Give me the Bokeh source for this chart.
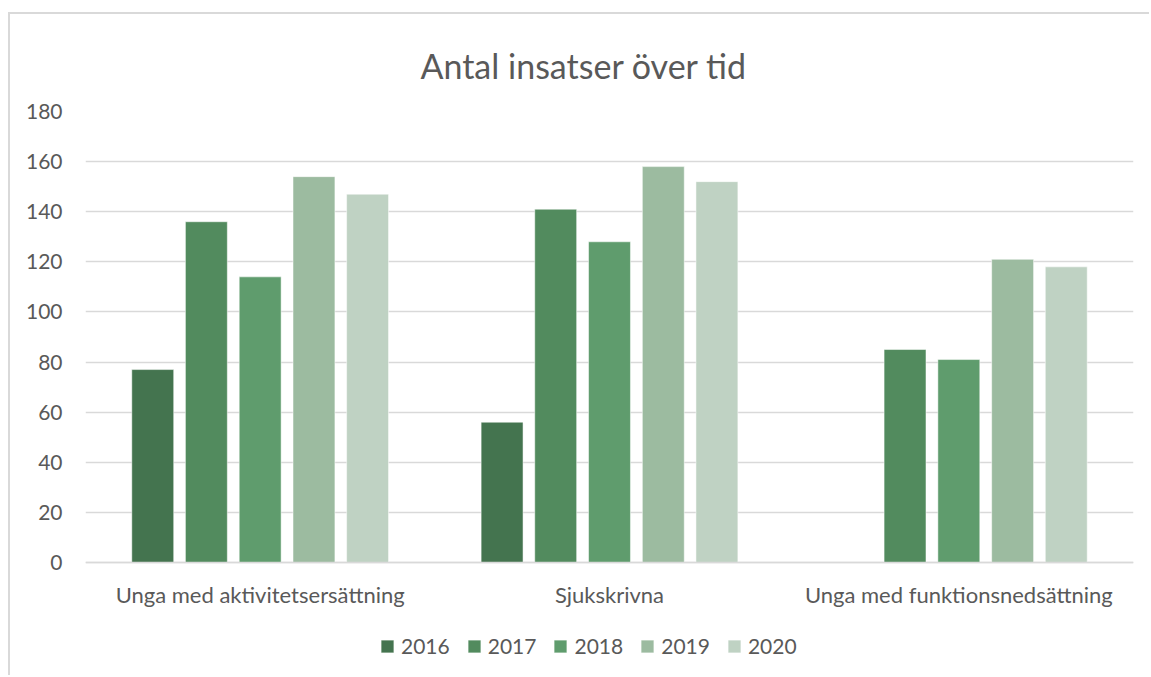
from bokeh.plotting import figure
from bokeh.models import ColumnDataSource, Legend, LegendItem, Title
from bokeh.transform import dodge
from bokeh.embed import file_html
from bokeh.resources import INLINE

categories = ["Unga med aktivitetsersättning", "Sjukskrivna", "Unga med funktionsnedsättning"]
years = ["2016", "2017", "2018", "2019", "2020"]
v2016 = [77, 56, float("nan")]
v2017 = [136, 141, 85]
v2018 = [114, 128, 81]
v2019 = [154, 158, 121]
v2020 = [147, 152, 118]
colors = ["#44744F", "#528B5E", "#5F9C6D", "#9CBBA0", "#BFD2C3"]

FONT = "Lato"
TXT = "#595959"

source = ColumnDataSource(dict(cat=categories, y2016=v2016, y2017=v2017, y2018=v2018,
                               y2019=v2019, y2020=v2020))

# frame runs below zero so that the legend can sit inside it
y_low = -180 * 115 / 451
p = figure(x_range=categories, y_range=(y_low, 180), width=1141, height=663,
           output_backend="svg", toolbar_location=None,
           min_border_left=75, min_border_right=18, min_border_bottom=0,
           min_border_top=97)
p.title = Title(text="Antal insatser över tid", align="left", text_font=FONT,
                text_font_size="34px", text_color=TXT, text_font_style="normal",
                standoff=52, offset=335)

offsets = [-0.3075, -0.154, 0.0, 0.154, 0.3075]
items = []
for yr, col, off in zip(years, colors, offsets):
    r = p.vbar(x=dodge("cat", off, range=p.x_range), top="y" + yr, width=0.12,
               source=source, fill_color=col, line_color="#FFFFFF", line_alpha=0.5,
               line_width=1)
    items.append(LegendItem(label=yr, renderers=[r]))

legend = Legend(items=items, orientation="horizontal", location=(294, 19),
                label_text_font=FONT, label_text_font_size="21px", label_text_color=TXT,
                glyph_width=16, glyph_height=16, label_standoff=6, spacing=16,
                border_line_color=None, background_fill_alpha=0, padding=0, margin=0)
p.add_layout(legend, "center")

p.xgrid.grid_line_color = None
p.ygrid.grid_line_color = "#D9D9D9"
p.ygrid.grid_line_width = 1.5
p.yaxis.ticker = [0, 20, 40, 60, 80, 100, 120, 140, 160, 180]
p.yaxis.axis_line_color = None
p.yaxis.major_tick_line_color = None
p.yaxis.minor_tick_line_color = None
p.yaxis.major_label_text_font = FONT
p.yaxis.major_label_text_font_size = "21px"
p.yaxis.major_label_text_color = TXT
p.yaxis.major_label_standoff = 17
p.xaxis.fixed_location = 0
p.xaxis.axis_line_color = "#D9D9D9"
p.xaxis.axis_line_width = 1.5
p.xaxis.major_tick_line_color = None
p.xaxis.major_label_text_font = FONT
p.xaxis.major_label_text_font_size = "22px"
p.xaxis.major_label_text_color = TXT
p.xaxis.major_label_standoff = 12
p.outline_line_color = None
p.x_range.range_padding = 0
p.styles = {"border-left": "2px solid #D9D9D9", "border-top": "2px solid #D9D9D9",
            "margin-top": "12px", "margin-left": "8px"}

open("out.html", "w").write(file_html(p, INLINE))
